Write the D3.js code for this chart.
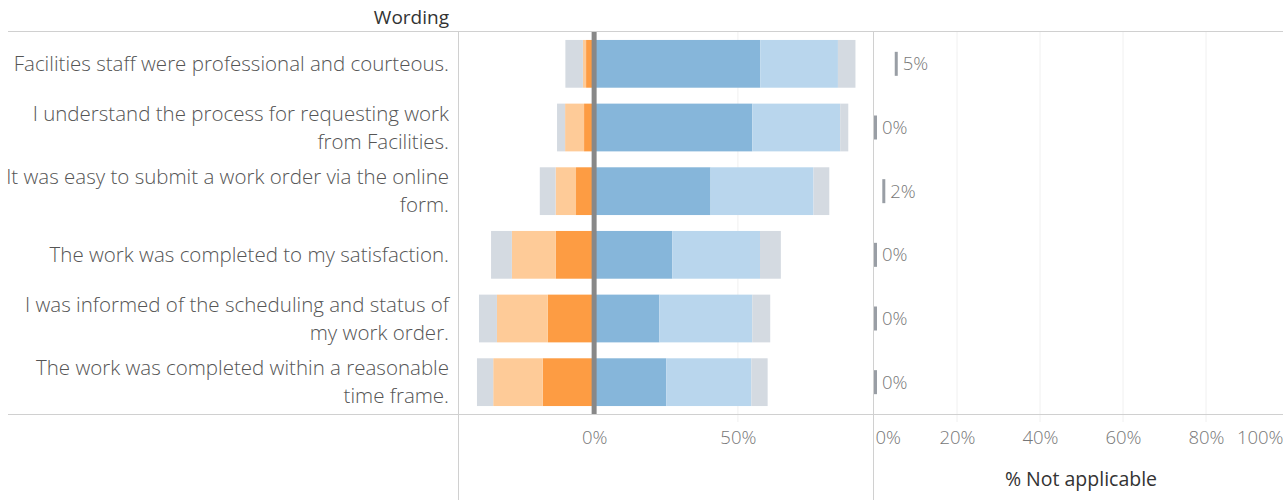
<!DOCTYPE html>
<meta charset="utf-8">
<style>
body { margin: 0; background: #fff; }
svg text { font-family: "Open Sans", "Noto Sans", sans-serif; }
</style>
<body>
<script src="https://d3js.org/d3.v7.min.js"></script>
<script>

// survey statements (wrapped the way the chart wraps them)
const wording = [
  ["Facilities staff were professional and courteous."],
  ["I understand the process for requesting work", "from Facilities."],
  ["It was easy to submit a work order via the online", "form."],
  ["The work was completed to my satisfaction."],
  ["I was informed of the scheduling and status of", "my work order."],
  ["The work was completed within a reasonable", "time frame."]
];

// percentages
const stronglyDisagree = [2.8, 3.5, 6.3, 13.3, 16.1, 17.9];
const somewhatDisagree = [1.1, 6.6, 7.1, 15.3, 17.7, 17.2];
const neutral          = [12.2, 5.6, 11.0, 14.5, 12.5, 11.3];
const stronglyAgree    = [57.8, 55.0, 40.5, 27.2, 22.7, 25.1];
const somewhatAgree    = [27.0, 30.6, 35.8, 30.5, 32.3, 29.6];
const notApplicable    = [5, 0, 2, 0, 0, 0];

const divTicks = [0, 50];
const naTicks = [0, 20, 40, 60, 80, 100];

const W = 1283, H = 500;
const plotTop = 32, plotBottom = 414;

const svg = d3.select("body").append("svg")
  .attr("width", W).attr("height", H);

const y = d3.scaleBand()
  .domain(d3.range(wording.length))
  .range([plotTop, plotBottom])
  .paddingInner(0.25).paddingOuter(0.125);

const x = d3.scaleLinear().domain([-47, 97]).range([459, 873]);
const x2 = d3.scaleLinear().domain([0, 100]).range([874, 1289]);

// stacked segments, neutral split half on each side
const rows = wording.map((w, i) => {
  const segs = [];
  let left = 0;
  segs.push({ x0: left - stronglyDisagree[i], x1: left, c: "#fd9c43" });
  left -= stronglyDisagree[i];
  segs.push({ x0: left - somewhatDisagree[i], x1: left, c: "#fecb98" });
  left -= somewhatDisagree[i];
  segs.push({ x0: left - neutral[i] / 2, x1: left, c: "#d4dae1" });
  let right = 0;
  segs.push({ x0: right, x1: right + stronglyAgree[i], c: "#86b6da" });
  right += stronglyAgree[i];
  segs.push({ x0: right, x1: right + somewhatAgree[i], c: "#b9d6ed" });
  right += somewhatAgree[i];
  segs.push({ x0: right, x1: right + neutral[i] / 2, c: "#d4dae1" });
  return segs;
});

// gridlines
svg.append("g").selectAll("line")
  .data(divTicks.filter(d => d !== 0))
  .join("line")
  .attr("x1", d => x(d)).attr("x2", d => x(d))
  .attr("y1", plotTop).attr("y2", plotBottom + 8)
  .attr("stroke", "#f0f0f0").attr("stroke-width", 1);

svg.append("g").selectAll("line")
  .data(naTicks.filter(d => d > 0 && d < 100))
  .join("line")
  .attr("x1", d => x2(d)).attr("x2", d => x2(d))
  .attr("y1", plotTop).attr("y2", plotBottom + 8)
  .attr("stroke", "#f0f0f0").attr("stroke-width", 1);

// bars
const rowG = svg.append("g").selectAll("g")
  .data(rows)
  .join("g")
  .attr("transform", (d, i) => "translate(0," + y(i) + ")");

rowG.selectAll("rect")
  .data(d => d)
  .join("rect")
  .attr("x", d => x(d.x0))
  .attr("width", d => x(d.x1) - x(d.x0))
  .attr("height", y.bandwidth())
  .attr("fill", d => d.c);

// zero line
svg.append("line")
  .attr("x1", x(0)).attr("x2", x(0))
  .attr("y1", plotTop).attr("y2", plotBottom + 1)
  .attr("stroke", "#888").attr("stroke-width", 5);

// not applicable markers
const na = svg.append("g").selectAll("g")
  .data(notApplicable)
  .join("g")
  .attr("transform", (d, i) => "translate(0," + (y(i) + y.bandwidth() / 2) + ")");

na.append("rect")
  .attr("x", d => x2(d))
  .attr("y", -12)
  .attr("width", 3)
  .attr("height", 24)
  .attr("fill", "#999ea5");

na.append("text")
  .attr("x", d => x2(d) + 8)
  .attr("dy", "0.35em")
  .attr("font-size", 18.5)
  .attr("font-weight", 300)
  .attr("fill", "#777")
  .text(d => d + "%");

// row labels
const fs = 20.5;
const lab = svg.append("g").selectAll("text")
  .data(wording)
  .join("text")
  .attr("text-anchor", "end")
  .attr("font-size", fs)
  .attr("font-weight", 300)
  .attr("fill", "#555")
  .attr("y", (d, i) => y(i) + y.bandwidth() / 2);

lab.selectAll("tspan")
  .data(d => d.map((t, k) => ({ t, k, n: d.length })))
  .join("tspan")
  .attr("x", 449)
  .attr("dy", d => d.k === 0 ? (0.35 * fs - (d.n - 1) * 14) : 28)
  .text(d => d.t);

// frame lines
const frame = svg.append("g").attr("stroke", "#d0d0d0").attr("stroke-width", 1);
frame.append("line").attr("x1", 8).attr("x2", W).attr("y1", plotTop - 0.5).attr("y2", plotTop - 0.5);
frame.append("line").attr("x1", 8).attr("x2", W).attr("y1", plotBottom + 0.5).attr("y2", plotBottom + 0.5);
frame.append("line").attr("x1", 458.5).attr("x2", 458.5).attr("y1", plotTop).attr("y2", H);
frame.append("line").attr("x1", 873.5).attr("x2", 873.5).attr("y1", plotTop).attr("y2", H);

// axes
const axDiv = svg.append("g")
  .attr("transform", "translate(0," + plotBottom + ")")
  .call(d3.axisBottom(x).tickValues(divTicks).tickFormat(d => d + "%").tickSize(0).tickPadding(17));

const axNa = svg.append("g")
  .attr("transform", "translate(0," + plotBottom + ")")
  .call(d3.axisBottom(x2).tickValues(naTicks).tickFormat(d => d + "%").tickSize(0).tickPadding(17));

[axDiv, axNa].forEach(a => {
  a.select(".domain").remove();
  a.selectAll("text")
    .attr("font-size", 18.5)
    .attr("font-weight", 300)
    .attr("fill", "#777")
    .style("font-family", "'Open Sans', sans-serif");
});
axNa.selectAll(".tick").filter(d => d === 0).select("text")
  .attr("text-anchor", "start").attr("x", 1);
axNa.selectAll(".tick").filter(d => d === 100).select("text")
  .attr("text-anchor", "end").attr("x", -6);

// titles
svg.append("text")
  .attr("x", 449).attr("y", 24)
  .attr("text-anchor", "end")
  .attr("font-size", 19)
  .attr("font-weight", 400)
  .attr("fill", "#333")
  .text("Wording");

svg.append("text")
  .attr("x", 1081).attr("y", 486)
  .attr("text-anchor", "middle")
  .attr("font-size", 19.5)
  .attr("font-weight", 400)
  .attr("fill", "#333")
  .text("% Not applicable");

</script>
</body>
